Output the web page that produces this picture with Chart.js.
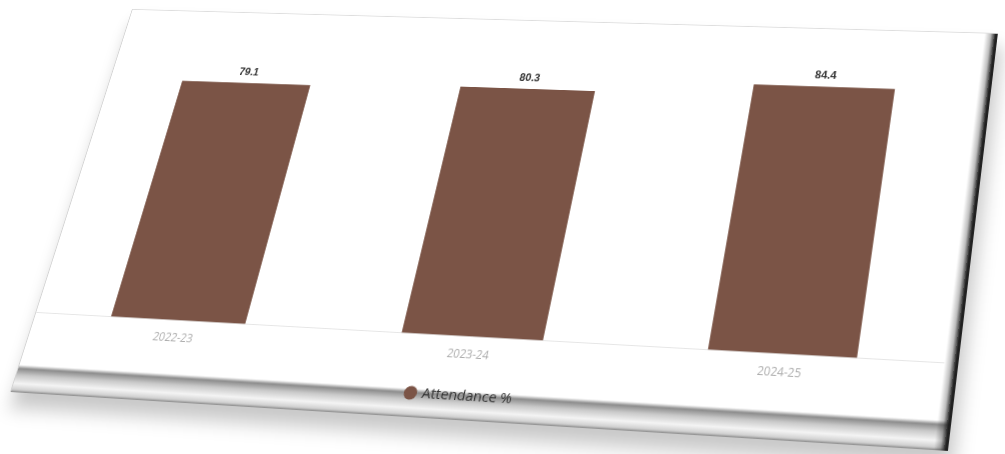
<!DOCTYPE html>
<html>
<head>
<meta charset="utf-8">
<script src="https://cdn.jsdelivr.net/npm/chart.js@4.4.1/dist/chart.umd.min.js"></script>
<style>
  html, body { margin: 0; padding: 0; background: #fff; overflow: hidden; }
  body { width: 1005px; height: 454px; position: relative; }
  #card {
    position: absolute; left: 0; top: 0;
    width: 1000px; height: 440px;
    background: #fff;
    border-top: 1px solid #dedede;
    border-left: 1px solid #d4d4d4;
    box-sizing: border-box;
    transform-origin: 0 0;
    box-shadow: 6px 16px 18px rgba(0, 0, 0, 0.22);
  }
  #band {
    position: absolute; left: 0; right: 0; bottom: 0; height: 29px;
    background: linear-gradient(to bottom, #fff 0%, #8c8c8c 14%, #c9c9c9 38%, #f4f4f4 68%, #d0d0d0 90%, #8a8a8a 100%);
  }
  #edge {
    position: absolute; top: 0; bottom: 0; right: 0; width: 14px;
    background: linear-gradient(to right, rgba(0,0,0,0) 0%, rgba(0,0,0,0.25) 45%, #1a1a1a 85%, #2a2a2a 100%);
  }
  #chartBox { position: absolute; left: 0; top: 0; width: 1000px; height: 440px; }
</style>
</head>
<body>
<div id="card">
  <div id="band"></div>
  <div id="edge"></div>
  <div id="chartBox"><canvas id="attendanceChart" width="1000" height="440"></canvas></div>
</div>
<script>
var years = ['2022-23', '2023-24', '2024-25'];
var attendance = [79.1, 80.3, 84.4];
var seriesName = 'Attendance %';
var barColor = '#7b5446';

// corners of the tilted card on the page: TL, TR, BR, BL
var cardCorners = [[132, 9], [998, 33], [948, 451], [10, 392]];

function quadMatrix(w, h, q) {
  var x0 = q[0][0], y0 = q[0][1], x1 = q[1][0], y1 = q[1][1];
  var x2 = q[2][0], y2 = q[2][1], x3 = q[3][0], y3 = q[3][1];
  var dx1 = x1 - x2, dx2 = x3 - x2, dx3 = x0 - x1 + x2 - x3;
  var dy1 = y1 - y2, dy2 = y3 - y2, dy3 = y0 - y1 + y2 - y3;
  var den = dx1 * dy2 - dx2 * dy1;
  var g = (dx3 * dy2 - dx2 * dy3) / den;
  var k = (dx1 * dy3 - dx3 * dy1) / den;
  var a = x1 - x0 + g * x1, b = x3 - x0 + k * x3;
  var d = y1 - y0 + g * y1, e = y3 - y0 + k * y3;
  return 'matrix3d(' + [a / w, d / w, 0, g / w, b / h, e / h, 0, k / h, 0, 0, 1, 0, x0, y0, 0, 1].join(',') + ')';
}

document.getElementById('card').style.transform = quadMatrix(1000, 440, cardCorners);

var valueLabels = {
  id: 'valueLabels',
  afterDatasetsDraw: function (chart) {
    var ctx = chart.ctx;
    var meta = chart.getDatasetMeta(0);
    ctx.save();
    ctx.font = 'bold 12px "Liberation Sans", Arial, sans-serif';
    ctx.fillStyle = '#333';
    ctx.textAlign = 'center';
    ctx.textBaseline = 'bottom';
    meta.data.forEach(function (bar, i) {
      ctx.fillText(attendance[i].toFixed(1), bar.x, bar.y - 6);
    });
    ctx.restore();
  }
};

new Chart(document.getElementById('attendanceChart'), {
  type: 'bar',
  data: {
    labels: years,
    datasets: [{
      label: seriesName,
      data: attendance,
      backgroundColor: barColor,
      borderWidth: 0,
      barPercentage: 0.9,
      categoryPercentage: 0.52
    }]
  },
  options: {
    responsive: false,
    animation: false,
    layout: { padding: { top: 13, bottom: 8, left: 0, right: 16 } },
    scales: {
      x: {
        grid: { display: false },
        border: { display: true, color: '#e6e6e6' },
        ticks: { color: '#adadad', padding: 4, font: { family: '"Open Sans", sans-serif', size: 12 } }
      },
      y: {
        min: 0,
        max: 100,
        display: false
      }
    },
    plugins: {
      legend: {
        position: 'bottom',
        labels: {
          usePointStyle: true,
          pointStyle: 'circle',
          boxWidth: 10,
          boxHeight: 10,
          padding: 23,
          color: '#333',
          font: { family: '"Open Sans", sans-serif', size: 15 }
        }
      },
      tooltip: { enabled: false }
    }
  },
  plugins: [valueLabels]
});
</script>
</body>
</html>
